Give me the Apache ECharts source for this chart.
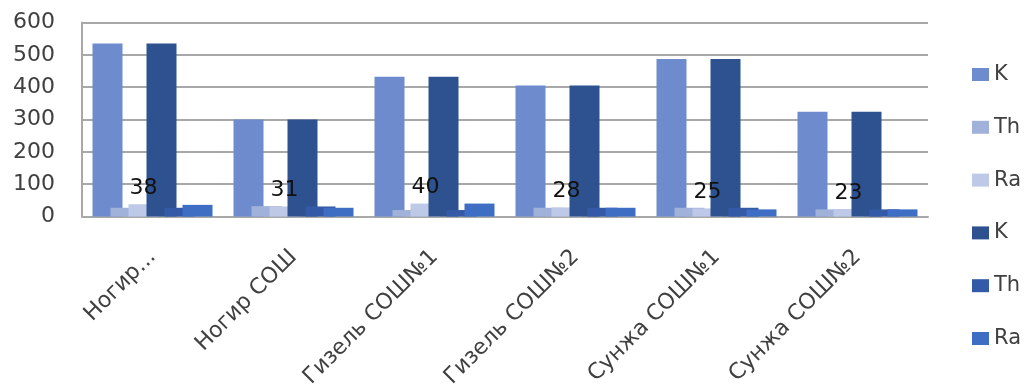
<!DOCTYPE html>
<html>
<head>
<meta charset="utf-8">
<script src="https://cdn.jsdelivr.net/npm/echarts@6/dist/echarts.min.js"></script>
<style>
  html, body { margin: 0; padding: 0; background: #ffffff; }
  #chart { width: 1029px; height: 389px; }
</style>
</head>
<body>
<div id="chart"></div>
<script>
// School sites along the category axis
const categories = ['Ногир...', 'Ногир СОШ', 'Гизель СОШ№1', 'Гизель СОШ№2', 'Сунжа СОШ№1', 'Сунжа СОШ№2'];

// First measurement set
const kFirst  = [535, 300, 432, 405, 487, 324];
const thFirst = [27, 32, 20, 27, 27, 22];
const raFirst = [38, 31, 40, 28, 25, 23];

// Second measurement set
const kSecond  = [535, 300, 432, 405, 487, 324];
const thSecond = [27, 31, 20, 27, 27, 22];
const raSecond = [36, 27, 40, 27, 22, 22];

// Value axis ticks
const yTicks = [0, 100, 200, 300, 400, 500, 600];

// Legend names repeat, so the second set carries a trailing space to stay distinct
const seriesDefs = [
  { name: 'K',   data: kFirst,   color: '#6d8bcd' },
  { name: 'Th',  data: thFirst,  color: '#a0b1da' },
  { name: 'Ra',  data: raFirst,  color: '#bdc9e7', label: true },
  { name: 'K ',  data: kSecond,  color: '#2e5290' },
  { name: 'Th ', data: thSecond, color: '#3459a6' },
  { name: 'Ra ', data: raSecond, color: '#3d6ec3' }
];

const font = 'DejaVu Sans';
const legendTop = 64;     // top of the first legend row
const legendStep = 52.8;  // distance between legend rows

const chart = echarts.init(document.getElementById('chart'), null, { renderer: 'canvas' });

chart.setOption({
  animation: false,
  backgroundColor: '#ffffff',
  textStyle: { fontFamily: font },
  grid: {
    left: 82, right: 101, top: 22.5, bottom: 172.5,
    containLabel: false,
    outerBoundsMode: 'none'
  },
  // One legend per row keeps the row spacing exact
  legend: seriesDefs.map((s, i) => ({
    orient: 'vertical',
    left: 972,
    top: legendTop + i * legendStep,
    padding: 0,
    itemWidth: 17,
    itemHeight: 13,
    icon: 'rect',
    selectedMode: false,
    data: [s.name],
    formatter: name => name.trim(),
    textStyle: { fontFamily: font, fontSize: 21, color: '#404040', lineHeight: 20 }
  })),
  xAxis: {
    type: 'category',
    data: categories,
    axisLine: { show: true, lineStyle: { color: '#a8a8a8', width: 2 } },
    axisTick: { show: false },
    axisLabel: {
      rotate: 45,
      interval: 0,
      margin: 37,
      fontFamily: font,
      fontSize: 22,
      color: '#404040'
    }
  },
  yAxis: {
    type: 'value',
    min: yTicks[0],
    max: yTicks[yTicks.length - 1],
    interval: yTicks[1] - yTicks[0],
    axisLine: { show: true, lineStyle: { color: '#a8a8a8', width: 2 } },
    axisTick: { show: false },
    splitLine: { show: true, lineStyle: { color: '#a8a8a8', width: 2 } },
    axisLabel: { margin: 27, fontFamily: font, fontSize: 22, color: '#404040' }
  },
  series: seriesDefs.map(s => ({
    name: s.name,
    type: 'bar',
    data: s.data,
    barWidth: 30,
    barGap: '-40%',
    itemStyle: { color: s.color },
    label: s.label ? {
      show: true,
      position: 'top',
      distance: 5,
      fontFamily: font,
      fontSize: 22,
      color: '#111111'
    } : { show: false }
  }))
});
</script>
</body>
</html>
